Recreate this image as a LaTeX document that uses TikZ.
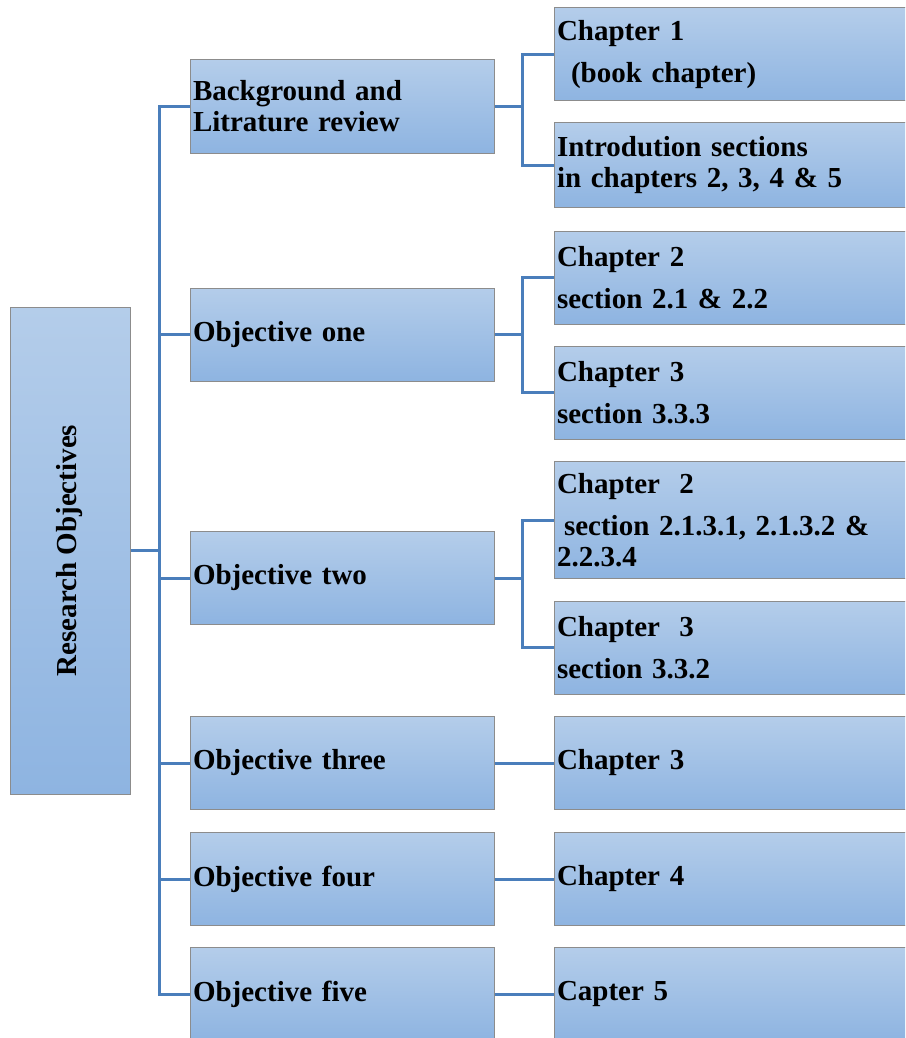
\documentclass[tikz,border=0pt]{standalone}
\usepackage{fontspec,graphicx}
\setmainfont{Liberation Serif}
\frenchspacing
\definecolor{boxtop}{HTML}{B4CDEA}
\definecolor{boxbot}{HTML}{8EB4E1}
\definecolor{linkblue}{HTML}{4A7EBB}
\tikzstyle{box} = [draw=gray!90, line width=.5pt, top color=boxtop, bottom color=boxbot, inner xsep=1.5pt, inner ysep=0pt, align=left, font=\bfseries\fontsize{14.5pt}{15.5pt}\selectfont, minimum height=46.5pt]
\tikzstyle{midbox} = [box, text width=149pt]
\tikzstyle{chbox} = [box, text width=182pt]
\tikzstyle{link} = [draw=linkblue, line width=1.5pt]

\begin{document}
\begin{tikzpicture}[x=.5pt, y=-.5pt]
    \path[use as bounding box, clip] (0,0) rectangle (905,1038);
    % root
    \node[box, minimum width=60pt, minimum height=243.5pt, align=center] (root) at (70,550.5) {\rotatebox{90}{Research Objectives}};
    % objectives
    \node[midbox] (bg) at (342,106.5) {Background and\\Litrature review};
    \node[midbox] (obj1) at (342,334.5) {Objective one};
    \node[midbox] (obj2) at (342,578) {Objective two};
    \node[midbox] (obj3) at (342,763) {Objective three};
    \node[midbox] (obj4) at (342,879) {Objective four};
    \node[midbox] (obj5) at (342,994) {Objective five};
    % chapters
    \node[chbox] (ch1) at (739,54.5) {Chapter 1\\[5.5pt]\hspace*{7pt}(book chapter)};
    \node[chbox, minimum height=42.5pt] (intro) at (739,165) {Introdution sections\\in chapters 2, 3, 4 \& 5};
    \node[chbox] (c2a) at (739,277.5) {Chapter 2\\[5.5pt]section 2.1 \& 2.2};
    \node[chbox] (c3a) at (739,392.5) {Chapter 3\\[5.5pt]section 3.3.3};
    \node[chbox, minimum height=58.5pt] (c2b) at (739,520) {Chapter\ \ 2\\[5.5pt]\hspace*{3.5pt}section 2.1.3.1, 2.1.3.2 \&\\2.2.3.4};
    \node[chbox] (c3b) at (739,647.5) {Chapter\ \ 3\\[5.5pt]section 3.3.2};
    \node[chbox] (c3c) at (739,763) {Chapter 3};
    \node[chbox] (c4) at (739,879) {Chapter 4};
    \node[chbox] (c5) at (739,994) {Capter 5};
    % trunk
    \draw[link] (root.east) -- ++(30,0);
    \draw[link] (bg.west) -- ++(-30,0) |- (obj5.west);
    \foreach \o in {obj1,obj2,obj3,obj4}
        \draw[link] (\o.west) -- ++(-30,0);
    % branches
    \foreach \p/\a/\b in {bg/ch1/intro, obj1/c2a/c3a, obj2/c2b/c3b} {
        \draw[link] (\p.east) -- ++(28,0) coordinate (j);
        \draw[link] (\a.west) -| (j) |- (\b.west);
    }
    \foreach \p/\c in {obj3/c3c, obj4/c4, obj5/c5}
        \draw[link] (\p.east) -- (\c.west);
\end{tikzpicture}
\end{document}
